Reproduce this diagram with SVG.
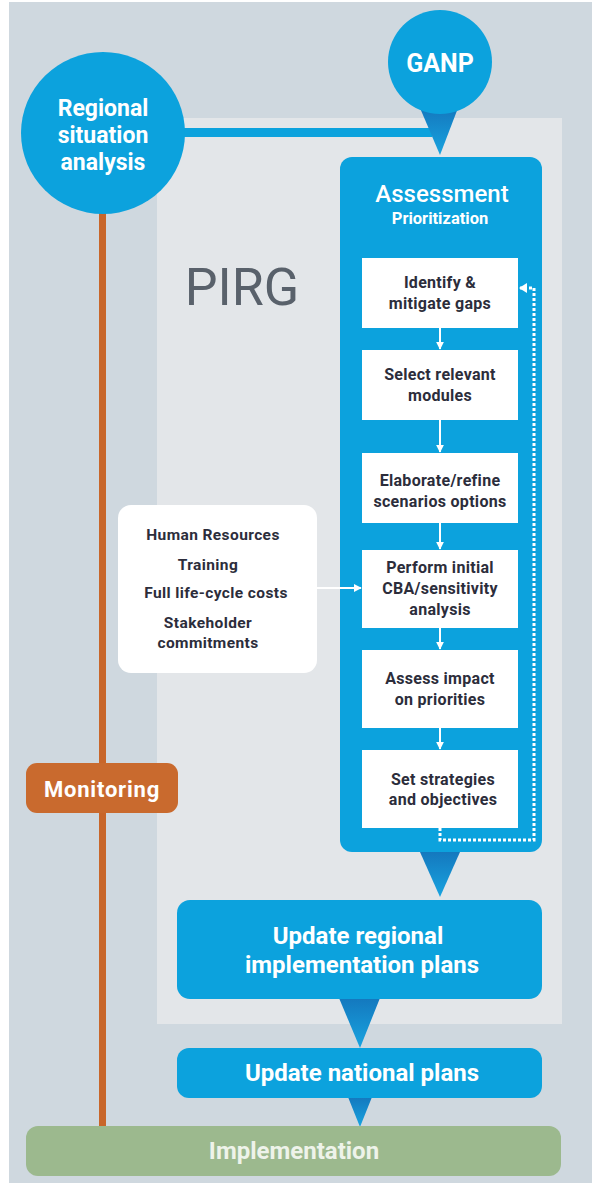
<svg xmlns="http://www.w3.org/2000/svg" width="592" height="1183" viewBox="0 0 592 1183">
<style>
.blue{fill:#0ca2dd}
.wbox{fill:#ffffff}
.t{font-family:Roboto,"Liberation Sans",sans-serif;text-anchor:middle}
.wt{fill:#ffffff;font-weight:700}
.dk{fill:#2c2d3b;font-weight:700;font-size:16px;letter-spacing:0.3px}
.hr{fill:#2c2d3b;font-weight:700;font-size:15.5px;letter-spacing:0.4px}
.flow{stroke:#ffffff;stroke-width:2;fill:none}
</style>
<defs>
<linearGradient id="tri" x1="0" y1="0" x2="0" y2="1">
<stop offset="0" stop-color="#1478be"/>
<stop offset="1" stop-color="#18a4e0"/>
</linearGradient>
<marker id="ah" viewBox="0 0 10 10" refX="9" refY="5" markerWidth="4" markerHeight="4" orient="auto" markerUnits="strokeWidth">
<path d="M0,0 L10,5 L0,10 z" fill="#ffffff"/>
</marker>
</defs>
<rect x="9" y="2" width="583" height="1181" fill="#cfd8df"/>
<rect x="157" y="118" width="405" height="906" fill="#e3e6e9"/>
<text class="t" x="242" y="305" font-size="52" fill="#59616b">PIRG</text>

<g id="connectors">
<rect x="99" y="200" width="7" height="927" fill="#c8662a"/>
<rect x="170" y="128" width="262" height="9" class="blue"/>
<polygon points="420,852 460,852 440,897" fill="url(#tri)"/>
<polygon points="339,998 380,998 360,1048" fill="url(#tri)"/>
<polygon points="348,1097 372,1097 360,1127" fill="url(#tri)"/>
<polygon points="420,108 458,108 440,155" fill="url(#tri)"/>
</g>

<g id="regional">
<ellipse cx="103" cy="133" rx="82" ry="81" class="blue"/>
<text class="t wt" x="103" y="116" font-size="23">Regional</text>
<text class="t wt" x="103" y="143" font-size="23">situation</text>
<text class="t wt" x="103" y="170" font-size="23">analysis</text>
</g>

<g id="ganp">
<circle cx="440" cy="62" r="52" class="blue"/>
<text class="t wt" x="440" y="72" font-size="25">GANP</text>
</g>

<g id="assessment">
<rect x="340" y="157" width="202" height="695" rx="12" class="blue"/>
<text class="t" x="442" y="202" font-size="24" fill="#ffffff" font-weight="500">Assessment</text>
<text class="t wt" x="440" y="224" font-size="16.5">Prioritization</text>
</g>

<g id="box1">
<rect x="362" y="258" width="156" height="70" class="wbox"/>
<text class="t dk" x="440" y="288">Identify &amp;</text>
<text class="t dk" x="440" y="309">mitigate gaps</text>
</g>
<g id="box2">
<rect x="362" y="350" width="156" height="70" class="wbox"/>
<text class="t dk" x="440" y="380">Select relevant</text>
<text class="t dk" x="440" y="401">modules</text>
</g>
<g id="box3">
<rect x="362" y="453" width="156" height="70" class="wbox"/>
<text class="t dk" x="440" y="486">Elaborate/refine</text>
<text class="t dk" x="440" y="507">scenarios options</text>
</g>
<g id="box4">
<rect x="362" y="550" width="156" height="78" class="wbox"/>
<text class="t dk" x="440" y="573">Perform initial</text>
<text class="t dk" x="440" y="594">CBA/sensitivity</text>
<text class="t dk" x="440" y="615">analysis</text>
</g>
<g id="box5">
<rect x="362" y="650" width="156" height="78" class="wbox"/>
<text class="t dk" x="440" y="684">Assess impact</text>
<text class="t dk" x="440" y="705">on priorities</text>
</g>
<g id="box6">
<rect x="362" y="750" width="156" height="78" class="wbox"/>
<text class="t dk" x="443" y="785">Set strategies</text>
<text class="t dk" x="443" y="805">and objectives</text>
</g>

<g id="flow">
<line class="flow" x1="440" y1="328" x2="440" y2="349" marker-end="url(#ah)"/>
<line class="flow" x1="440" y1="420" x2="440" y2="452" marker-end="url(#ah)"/>
<line class="flow" x1="440" y1="523" x2="440" y2="549" marker-end="url(#ah)"/>
<line class="flow" x1="440" y1="628" x2="440" y2="649" marker-end="url(#ah)"/>
<line class="flow" x1="440" y1="728" x2="440" y2="749" marker-end="url(#ah)"/>
<line class="flow" x1="317" y1="588" x2="361" y2="588" marker-end="url(#ah)"/>
<path d="M440,828 V840 H534 V288 H520" stroke="#ffffff" stroke-width="3" fill="none" stroke-dasharray="3 2"/>
<path d="M527,283 L519,288 L527,293 z" fill="#ffffff"/>
</g>

<g id="resources">
<rect x="118" y="505" width="199" height="168" rx="13" fill="#ffffff"/>
<text class="t hr" x="213" y="540">Human Resources</text>
<text class="t hr" x="208" y="570">Training</text>
<text class="t hr" x="216" y="598">Full life-cycle costs</text>
<text class="t hr" x="208" y="628">Stakeholder</text>
<text class="t hr" x="208" y="648">commitments</text>
</g>

<g id="monitoring">
<rect x="26" y="763" width="152" height="50" rx="11" fill="#c96a2e"/>
<text class="t wt" x="102" y="797" font-size="22" letter-spacing="0.8">Monitoring</text>
</g>

<g id="regional-plans">
<rect x="177" y="900" width="365" height="99" rx="13" class="blue"/>
<text class="t wt" x="358" y="944" font-size="24">Update regional</text>
<text class="t wt" x="362" y="973" font-size="24">implementation plans</text>
</g>

<g id="national-plans">
<rect x="177" y="1048" width="365" height="50" rx="12" class="blue"/>
<text class="t wt" x="362" y="1081" font-size="24">Update national plans</text>
</g>

<g id="implementation">
<rect x="26" y="1126" width="535" height="50" rx="12" fill="#9cb98e"/>
<text class="t" x="294" y="1159" font-size="24" font-weight="700" fill="#eef3ea">Implementation</text>
</g>
</svg>
